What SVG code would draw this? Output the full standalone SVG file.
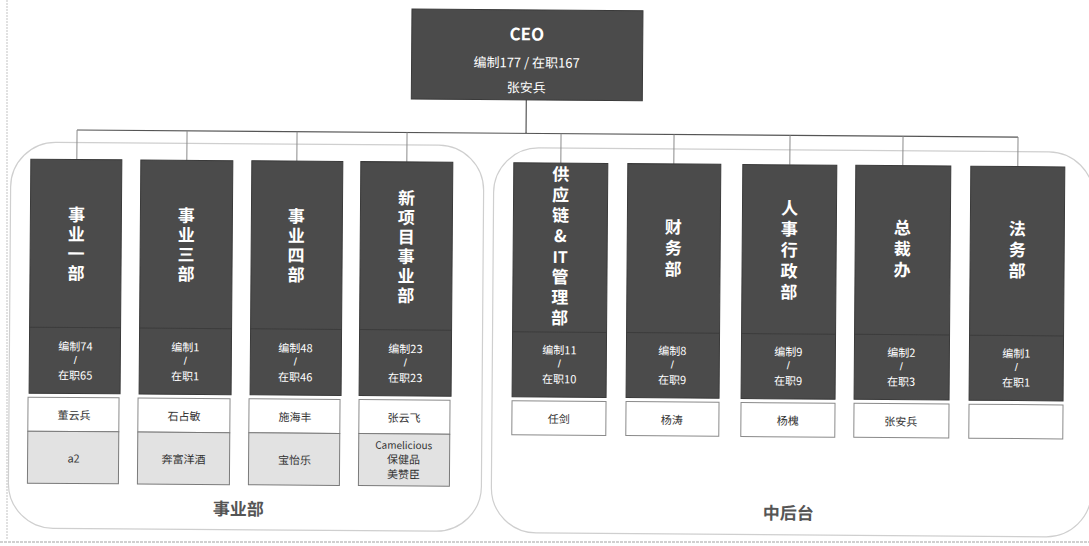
<svg xmlns="http://www.w3.org/2000/svg" width="1089" height="546" viewBox="0 0 1089 546">
<defs>
<style>
text{font-family:"Noto Sans CJK SC","Noto Sans",sans-serif;text-anchor:middle;dominant-baseline:central}
.dark{fill:#4b4b4b;stroke:#3a3a3a;stroke-width:1}
.div{stroke:#3c3c3c;stroke-width:1}
.t{fill:#fff;font-size:17px;font-weight:700}
.v{writing-mode:vertical-rl;text-orientation:upright;letter-spacing:2.5px}
.v4{letter-spacing:4px}
.v35{letter-spacing:3.5px}
.c{fill:#fff;font-size:11px}
.sl{fill:#fff;font-size:11px;font-family:"Liberation Sans",sans-serif}
.name{fill:#fff;stroke:#8a8a8a;stroke-width:1}
.prod{fill:#e2e2e2;stroke:#7a7a7a;stroke-width:1}
.n{fill:#333;font-size:11px}
.grp{fill:none;stroke:#cfcfcf;stroke-width:1.2}
.gl{fill:#555;font-size:17px;font-weight:700}
.trunk{stroke:#555;stroke-width:1.2;fill:none}
.drop{stroke:#8a8a8a;stroke-width:1;fill:none}
</style>
</defs>
<rect x="0" y="0" width="1089" height="546" fill="#ffffff"/>
<line x1="7" y1="0" x2="7" y2="540" stroke="#d8d8d8" stroke-width="1.5" stroke-dasharray="2 1"/>
<line x1="0" y1="542" x2="1089" y2="542" stroke="#d0d0d0" stroke-width="2" stroke-dasharray="3 1"/>
<g transform="rotate(0.43 544 273)">
<g id="group-bu">
<rect class="grp" x="10" y="146" width="473" height="386" rx="45"/>
<text class="gl" x="240" y="510">事业部</text>
</g>
<g id="group-mid">
<rect class="grp" x="493" y="148" width="600" height="385" rx="45"/>
<text class="gl" x="790" y="510">中后台</text>
</g>
<g id="connectors">
<path class="trunk" d="M525 100V133.5M76 133.5H1017"/>
<path class="drop" d="M76 133.5V163M186 133.5V163M296 133.5V163M406 133.5V163M560 133.5V163M673 133.5V163M789 133.5V163M902 133.5V163M1017 133.5V163"/>
</g>
<g id="ceo">
<rect class="dark" x="410" y="10" width="231" height="90"/>
<text x="525" y="33" fill="#fff" font-size="17" font-weight="700">CEO</text>
<text x="525" y="62" fill="#fff" font-size="13">编制177 / 在职167</text>
<text x="525" y="87" fill="#fff" font-size="13">张安兵</text>
</g>
<g id="bu1">
<rect class="dark" x="30" y="163" width="91" height="234"/>
<line class="div" x1="30" y1="331" x2="121" y2="331"/>
<text class="t v" x="76" y="248.5">事业一部</text>
<text class="c" x="76" y="349">编制74</text>
<text class="sl" x="76" y="363.5">/</text>
<text class="c" x="76" y="378">在职65</text>
<rect class="name" x="29" y="401" width="91" height="34"/>
<text class="n" x="75" y="418">董云兵</text>
<rect class="prod" x="29" y="435" width="91" height="52"/>
<text class="n" x="75" y="461">a2</text>
</g>
<g id="bu3">
<rect class="dark" x="140" y="163" width="92" height="234"/>
<line class="div" x1="140" y1="331" x2="232" y2="331"/>
<text class="t v" x="186" y="248.5">事业三部</text>
<text class="c" x="186" y="349">编制1</text>
<text class="sl" x="186" y="363.5">/</text>
<text class="c" x="186" y="378">在职1</text>
<rect class="name" x="139" y="401" width="92" height="34"/>
<text class="n" x="185" y="418">石占敏</text>
<rect class="prod" x="139" y="435" width="92" height="52"/>
<text class="n" x="185" y="461">奔富洋酒</text>
</g>
<g id="bu4">
<rect class="dark" x="251" y="163" width="91" height="234"/>
<line class="div" x1="251" y1="331" x2="342" y2="331"/>
<text class="t v" x="296" y="248.5">事业四部</text>
<text class="c" x="296" y="349">编制48</text>
<text class="sl" x="296" y="363.5">/</text>
<text class="c" x="296" y="378">在职46</text>
<rect class="name" x="250" y="401" width="91" height="34"/>
<text class="n" x="296" y="418">施海丰</text>
<rect class="prod" x="250" y="435" width="91" height="52"/>
<text class="n" x="296" y="461">宝怡乐</text>
</g>
<g id="bu-new">
<rect class="dark" x="360" y="163" width="92" height="234"/>
<line class="div" x1="360" y1="331" x2="452" y2="331"/>
<text class="t v" x="406" y="249">新项目事业部</text>
<text class="c" x="406" y="349">编制23</text>
<text class="sl" x="406" y="363.5">/</text>
<text class="c" x="406" y="378">在职23</text>
<rect class="name" x="360" y="401" width="91" height="34"/>
<text class="n" x="405" y="418">张云飞</text>
<rect class="prod" x="360" y="435" width="91" height="52"/>
<text x="405" y="445.5" fill="#333" font-size="10" font-family="'Liberation Sans',sans-serif">Camelicious</text>
<text class="n" x="405" y="459.5" font-size="9">保健品</text>
<text class="n" x="405" y="474.5" font-size="9">美赞臣</text>
</g>
<g id="scm-it">
<rect class="dark" x="513" y="163" width="94" height="234"/>
<line class="div" x1="513" y1="332" x2="607" y2="332"/>
<text class="t v v35" x="560" y="206.5">供应链&amp;</text>
<text x="560" y="256" fill="#fff" font-size="16" font-weight="700" font-family="'Liberation Sans',sans-serif">IT</text>
<text class="t v v35" x="560" y="298.75">管理部</text>
<text class="c" x="560" y="349">编制11</text>
<text class="sl" x="560" y="363.5">/</text>
<text class="c" x="560" y="378">在职10</text>
<rect class="name" x="513" y="401" width="94" height="34"/>
<text class="n" x="560" y="418">任剑</text>
</g>
<g id="finance">
<rect class="dark" x="627" y="163" width="93" height="234"/>
<line class="div" x1="627" y1="332" x2="720" y2="332"/>
<text class="t v v4" x="673" y="249">财务部</text>
<text class="c" x="673" y="349">编制8</text>
<text class="sl" x="673" y="363.5">/</text>
<text class="c" x="673" y="378">在职9</text>
<rect class="name" x="627" y="401" width="93" height="34"/>
<text class="n" x="673" y="418">杨涛</text>
</g>
<g id="hr-admin">
<rect class="dark" x="742" y="163" width="94" height="234"/>
<line class="div" x1="742" y1="332" x2="836" y2="332"/>
<text class="t v v4" x="789" y="250">人事行政部</text>
<text class="c" x="789" y="349">编制9</text>
<text class="sl" x="789" y="363.5">/</text>
<text class="c" x="789" y="378">在职9</text>
<rect class="name" x="742" y="401" width="94" height="34"/>
<text class="n" x="789" y="418">杨槐</text>
</g>
<g id="ceo-office">
<rect class="dark" x="855" y="163" width="95" height="234"/>
<line class="div" x1="855" y1="332" x2="950" y2="332"/>
<text class="t v v4" x="902" y="248">总裁办</text>
<text class="c" x="902" y="349">编制2</text>
<text class="sl" x="902" y="363.5">/</text>
<text class="c" x="902" y="378">在职3</text>
<rect class="name" x="855" y="401" width="95" height="34"/>
<text class="n" x="902" y="418">张安兵</text>
</g>
<g id="legal">
<rect class="dark" x="970" y="163" width="94" height="234"/>
<line class="div" x1="970" y1="332" x2="1064" y2="332"/>
<text class="t v v4" x="1017" y="248">法务部</text>
<text class="c" x="1017" y="349">编制1</text>
<text class="sl" x="1017" y="363.5">/</text>
<text class="c" x="1017" y="378">在职1</text>
<rect class="name" x="970" y="401" width="94" height="34"/>
</g>
</g>
</svg>
